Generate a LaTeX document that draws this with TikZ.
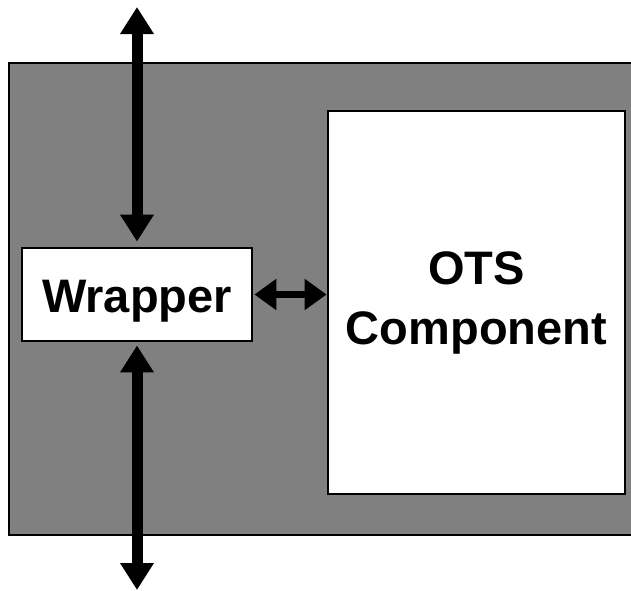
\documentclass[tikz,border=0pt]{standalone}
\usepackage{fontspec}
\setmainfont{Liberation Sans}
\usetikzlibrary{arrows.meta}
\definecolor{panelgray}{HTML}{808080}
\tikzset{
  panel/.style={draw=black, fill=panelgray, line width=2pt},
  whitebox/.style={draw=black, fill=white, line width=2.8pt, inner sep=0pt,
    font=\bfseries\fontsize{47}{60}\selectfont, align=center},
  bigarrow/.style={line width=11pt,
    {Triangle[length=27pt,width=32pt]}-{Triangle[length=27pt,width=32pt]}},
  smallarrow/.style={line width=7pt,
    {Triangle[length=22pt,width=30pt]}-{Triangle[length=22pt,width=30pt]}}
}
\begin{document}
\begin{tikzpicture}[x=1pt,y=-1pt]
  \useasboundingbox (0,0) rectangle (631,590);
  \clip (0,0) rectangle (631,590);
  % grey housing, running off the right edge
  \path[panel] (9,63) rectangle (660,535);
  % component boxes
  \node[whitebox, minimum width=230pt, minimum height=93pt] (wrapper) at (137,294.5)
    {\raisebox{-17.5pt}[0pt][0pt]{Wrapper}};
  \node[whitebox, minimum width=297pt, minimum height=383pt] (ots) at (476.5,302.5)
    {OTS\\Component};
  % outside interfaces
  \coordinate (topend) at (137,7);
  \coordinate (botend) at (137,590);
  \draw[bigarrow, shorten <=5pt] (wrapper.north) -- (topend);
  \draw[bigarrow, shorten <=3pt] (wrapper.south) -- (botend);
  % wrapper to component
  \draw[smallarrow, shorten <=1pt] (wrapper.east) -- (wrapper.east -| ots.west);
\end{tikzpicture}
\end{document}
